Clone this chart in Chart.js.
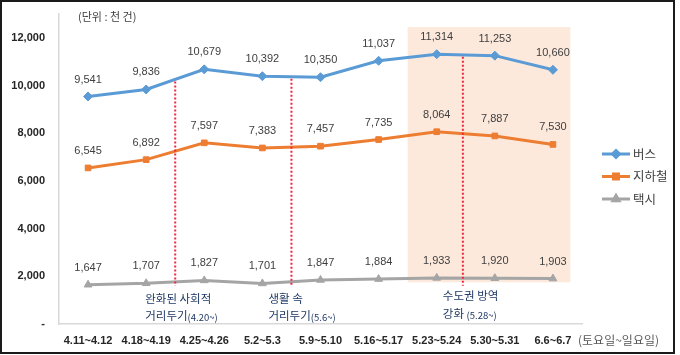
<!DOCTYPE html>
<html><head><meta charset="utf-8">
<script src="https://cdn.jsdelivr.net/npm/chart.js@4/dist/chart.umd.min.js"></script>
<style>html,body{margin:0;padding:0;background:#fff}canvas{display:block}</style>
</head><body>
<canvas id="c" width="680" height="355"></canvas>
<script>
const categories = ['4.11~4.12','4.18~4.19','4.25~4.26','5.2~5.3','5.9~5.10','5.16~5.17','5.23~5.24','5.30~5.31','6.6~6.7'];
const seriesNames = ['버스','지하철','택시'];
const bus = [9541,9836,10679,10392,10350,11037,11314,11253,10660];
const subway = [6545,6892,7597,7383,7457,7735,8064,7887,7530];
const taxi = [1647,1707,1827,1701,1847,1884,1933,1920,1903];
const yTicks = [0,2000,4000,6000,8000,10000,12000];
const unitLabel = '(단위 : 천 건)';
const xAxisNote = '(토요일~일요일)';
const eventPos = [1.5, 3.5, 6.45];
const eventText = [
  ['완화된 사회적', '거리두기', '(4.20~)'],
  ['생활 속', '거리두기', '(5.6~)'],
  ['수도권 방역', '강화 ', '(5.28~)']
];
const highlightRange = [5.5, 8.3];
const highlightValues = [1750, 12450];

const LAT = "'Liberation Sans', 'Noto Sans CJK KR', sans-serif";
const KR = "'Noto Sans CJK KR', sans-serif";
const fmt = v => v.toLocaleString('en-US');

const deco = {
  id: 'deco',
  beforeDatasetsDraw(chart) {
    const {ctx, scales:{x, y}} = chart;
    ctx.save();
    ctx.fillStyle = '#fce9dc';
    const x0 = x.getPixelForValue(highlightRange[0]), x1 = x.getPixelForValue(highlightRange[1]);
    const y0 = y.getPixelForValue(highlightValues[1]), y1 = y.getPixelForValue(highlightValues[0]);
    ctx.fillRect(x0, y0, x1 - x0, y1 - y0);
    ctx.restore();
  },
  afterDatasetsDraw(chart) {
    const {ctx, scales:{x, y}} = chart;
    const busPts = chart.getDatasetMeta(0).data;
    ctx.save();
    const dxs = [-30, -23, -20];
    eventPos.forEach((p, k) => {
      const i = Math.floor(p), f = p - i;
      const yTop = busPts[i].y + (busPts[i+1].y - busPts[i].y) * f;
      const px = x.getPixelForValue(p);
      ctx.strokeStyle = '#f0263f';
      ctx.lineWidth = 2;
      ctx.setLineDash([2, 2]);
      ctx.beginPath();
      ctx.moveTo(px, yTop + 2);
      ctx.lineTo(px, y.getPixelForValue(1600));
      ctx.stroke();
      ctx.setLineDash([]);
      const tx = px + dxs[k];
      const [l1, l2a, l2b] = eventText[k];
      const yy = k === 2 ? [296, 314] : [299, 316];
      ctx.fillStyle = '#1f3864';
      ctx.textAlign = 'left';
      ctx.textBaseline = 'middle';
      ctx.font = '11.5px ' + KR;
      ctx.fillText(l1, tx, yy[0]);
      ctx.fillText(l2a, tx, yy[1]);
      const w = ctx.measureText(l2a).width;
      ctx.font = '9.5px ' + KR;
      ctx.fillText(l2b, tx + w, yy[1] + 1);
    });
    ctx.fillStyle = '#404040';
    ctx.font = '11px ' + LAT;
    ctx.textAlign = 'center';
    ctx.textBaseline = 'middle';
    chart.data.datasets.forEach((ds, di) => {
      chart.getDatasetMeta(di).data.forEach((pt, i) => {
        ctx.fillText(fmt(ds.data[i]), pt.x, pt.y - 17);
      });
    });
    ctx.restore();
  },
  afterDraw(chart) {
    const {ctx} = chart;
    ctx.save();
    ctx.fillStyle = '#404040';
    ctx.font = '11px ' + KR;
    ctx.textAlign = 'left';
    ctx.textBaseline = 'middle';
    ctx.fillText(unitLabel, 78, 17);
    ctx.fillStyle = '#595959';
    ctx.font = '12px ' + KR;
    ctx.fillText(xAxisNote, 578, 340);
    chart.data.datasets.forEach((ds, i) => {
      const ly = 154 + i * 22.5;
      ctx.strokeStyle = ds.borderColor;
      ctx.lineWidth = 3;
      ctx.beginPath(); ctx.moveTo(602, ly); ctx.lineTo(630, ly); ctx.stroke();
      ctx.fillStyle = ds.borderColor;
      Chart.helpers.drawPoint(ctx, {pointStyle: ds.pointStyle, radius: 3.5, borderWidth: 1, rotation: 0}, 616, ly);
      ctx.fillStyle = '#404040';
      ctx.font = '12.5px ' + KR;
      ctx.textAlign = 'left';
      ctx.fillText(ds.label, 633, ly);
    });
    ctx.strokeStyle = '#1a1a1a';
    ctx.lineWidth = 2;
    ctx.strokeRect(1, 1, 673, 352);
    ctx.restore();
  }
};

const mk = (label, data, color, style, r) => ({
  label, data, borderColor: color, backgroundColor: color,
  borderWidth: 3, pointStyle: style, pointRadius: r, pointBorderWidth: 1,
  pointBackgroundColor: color, pointBorderColor: color, tension: 0
});

new Chart(document.getElementById('c'), {
  type: 'line',
  data: {
    labels: categories,
    datasets: [
      mk(seriesNames[0], bus, '#5b9bd5', 'rectRot', 4.5),
      mk(seriesNames[1], subway, '#ed7d31', 'rect', 4),
      mk(seriesNames[2], taxi, '#a5a5a5', 'triangle', 4.5)
    ]
  },
  options: {
    responsive: false,
    animation: false,
    layout: { padding: { top: 14, right: 98, left: 0, bottom: 0 } },
    plugins: { legend: { display: false }, tooltip: { enabled: false } },
    scales: {
      x: {
        offset: true,
        grid: { display: false, drawTicks: false },
        border: { display: true, color: '#d9d9d9', width: 1.5 },
        ticks: { color: '#262626', font: { family: LAT, size: 11, weight: 'bold' }, padding: 10, maxRotation: 0, autoSkip: false },
        afterFit(s) { s.height = 31; s.paddingLeft = 0; s.paddingRight = 0; }
      },
      y: {
        min: 0, max: 13000,
        afterBuildTicks(s) { s.ticks = yTicks.map(v => ({ value: v })); },
        grid: { display: false, drawTicks: false },
        border: { display: true, color: '#d9d9d9', width: 1.5 },
        ticks: { color: '#262626', font: { family: LAT, size: 11, weight: 'bold' }, padding: 14,
          callback: v => v === 0 ? '-' : fmt(v) },
        afterFit(s) { s.width = 59; s.paddingTop = 0; s.paddingBottom = 0; }
      }
    }
  },
  plugins: [deco]
});
</script>
</body></html>
